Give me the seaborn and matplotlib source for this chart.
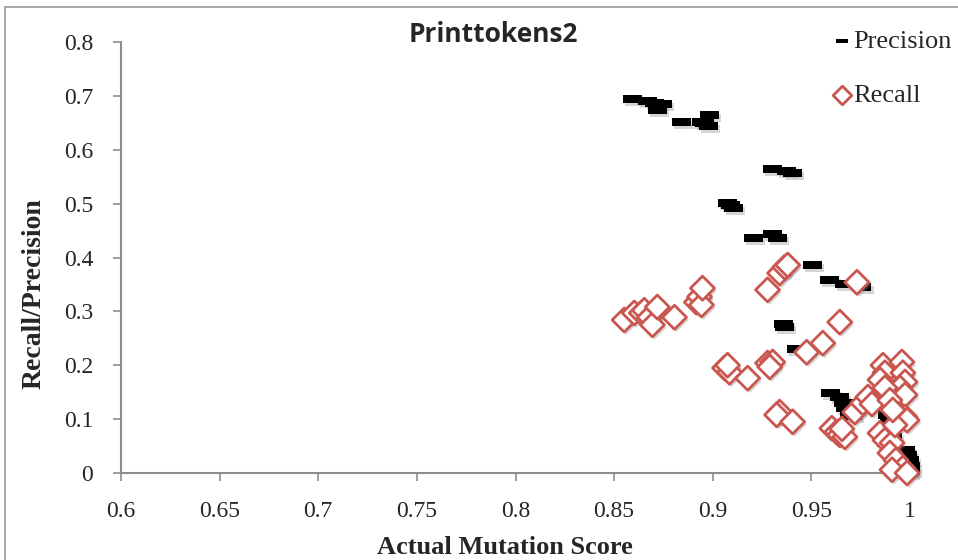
import numpy as np
import pandas as pd
import matplotlib
matplotlib.use("Agg")
import matplotlib.pyplot as plt
import seaborn as sns
from matplotlib.path import Path
from matplotlib.patches import Rectangle
import matplotlib.patheffects as pe

# ---- data ----
prec_x = [0.8592, 0.8668, 0.8704, 0.8745, 0.8719, 0.8841, 0.8943, 0.8983, 0.8978, 0.8958,
          0.9075, 0.9105, 0.9090, 0.9207, 0.9304, 0.9329, 0.9304, 0.9375, 0.9405,
          0.9507, 0.9593, 0.9670, 0.9756, 0.9360, 0.9365, 0.9426,
          0.9598, 0.9644, 0.9665, 0.9675, 0.9695, 0.9710, 0.9787, 0.9802,
          0.9883, 0.9893, 0.9888, 0.9898, 0.9863, 0.9883, 0.9903, 0.9913, 0.9929,
          0.9975, 0.9985, 0.9995, 1.0000, 1.0000, 0.9949, 0.9990]
prec_y = [0.694, 0.690, 0.686, 0.685, 0.673, 0.651, 0.651, 0.664, 0.644, 0.649,
          0.501, 0.492, 0.497, 0.436, 0.443, 0.436, 0.564, 0.560, 0.557,
          0.386, 0.358, 0.351, 0.345, 0.276, 0.271, 0.230,
          0.148, 0.141, 0.130, 0.121, 0.111, 0.106, 0.135, 0.126,
          0.126, 0.117, 0.108, 0.093, 0.074, 0.056, 0.048, 0.067, 0.037,
          0.043, 0.033, 0.024, 0.013, 0.004, 0.006, 0.000]

rec_x = [0.8551, 0.8602, 0.8638, 0.8653, 0.8679, 0.8694, 0.8719, 0.8806, 0.8917, 0.8933,
         0.8943, 0.8948,
         0.9060, 0.9085, 0.9075, 0.9177, 0.9278, 0.9304, 0.9289, 0.9339, 0.9324, 0.9405,
         0.9476, 0.9558, 0.9644, 0.9731, 0.9278, 0.9339, 0.9365, 0.9380,
         0.9604, 0.9629, 0.9644, 0.9670, 0.9655, 0.9720, 0.9761, 0.9787, 0.9807,
         0.9863, 0.9959, 0.9873, 0.9964, 0.9848, 0.9975, 0.9949, 0.9873, 0.9975,
         0.9898, 0.9975, 0.9985, 0.9848, 0.9873, 0.9909, 0.9898, 0.9929, 0.9964,
         0.9909, 0.9985, 0.9924, 0.9913]
rec_y = [0.284, 0.297, 0.297, 0.302, 0.289, 0.275, 0.308, 0.289, 0.317, 0.327,
         0.312, 0.343,
         0.195, 0.187, 0.200, 0.176, 0.204, 0.206, 0.197, 0.113, 0.108, 0.095,
         0.224, 0.241, 0.280, 0.354, 0.340, 0.371, 0.382, 0.386,
         0.083, 0.076, 0.071, 0.067, 0.082, 0.113, 0.130, 0.141, 0.128,
         0.200, 0.206, 0.186, 0.186, 0.173, 0.169, 0.158, 0.158, 0.145,
         0.135, 0.104, 0.098, 0.074, 0.061, 0.056, 0.037, 0.024, 0.009,
         0.006, 0.000, 0.089, 0.117]

x_ticks = [0.6, 0.65, 0.7, 0.75, 0.8, 0.85, 0.9, 0.95, 1.0]
x_labels = ["0.6", "0.65", "0.7", "0.75", "0.8", "0.85", "0.9", "0.95", "1"]
y_ticks = [0, 0.1, 0.2, 0.3, 0.4, 0.5, 0.6, 0.7, 0.8]
y_labels = ["0", "0.1", "0.2", "0.3", "0.4", "0.5", "0.6", "0.7", "0.8"]

prec_df = pd.DataFrame({"score": prec_x, "value": prec_y})
rec_df = pd.DataFrame({"score": rec_x, "value": rec_y})

sns.set_theme(style="white")
plt.rcParams['font.family'] = ['Liberation Serif', 'DejaVu Serif']

fig = plt.figure(figsize=(9.58, 5.60), dpi=100)
ax = fig.add_axes([121/958, 1-473/560, (910-121)/958, (473-42)/560])

dash = Path([(-1, -0.42), (1, -0.42), (1, 0.42), (-1, 0.42), (-1, -0.42)],
            [Path.MOVETO, Path.LINETO, Path.LINETO, Path.LINETO, Path.CLOSEPOLY])

red = "#C9574F"
shadow = [pe.SimplePatchShadow(offset=(1.5, -2), shadow_rgbFace="#888888", alpha=0.35), pe.Normal()]

sns.scatterplot(data=prec_df, x="score", y="value", marker=dash, s=190, color="black",
                edgecolor="black", linewidth=0, ax=ax, zorder=3, label="Precision")
sns.scatterplot(data=rec_df, x="score", y="value", marker="D", s=150, facecolor="white",
                edgecolor=red, linewidth=2.0, ax=ax, zorder=4, label="Recall")
for coll in ax.collections:
    coll.set_path_effects(shadow)
    coll.set_clip_on(False)

ax.set_xlim(0.6, 1.0)
ax.set_ylim(0, 0.8)
ax.set_xticks(x_ticks)
ax.set_xticklabels(x_labels)
ax.set_yticks(y_ticks)
ax.set_yticklabels(y_labels)
ax.tick_params(axis='both', which='major', labelsize=17, length=6, width=1.2,
               color="#8c8c8c", direction='out')
ax.tick_params(axis='x', bottom=True, pad=14)
ax.tick_params(axis='y', left=True, pad=14)
for s in ['top', 'right']:
    ax.spines[s].set_visible(False)
for s in ['left', 'bottom']:
    ax.spines[s].set_color("#8c8c8c")
    ax.spines[s].set_linewidth(1.5)

ax.set_xlabel("Actual Mutation Score", fontsize=19, fontweight='bold')
ax.set_ylabel("Recall/Precision", fontsize=20, fontweight='bold')
ax.xaxis.set_label_coords((505-121)/789, (473-536)/431)
ax.yaxis.set_label_coords((47-121)/789, (473-294)/431)

fig.text(493/958, 1-34/560, "Printtokens2", ha='center', va='center', fontsize=19,
         fontweight='bold', family=['Open Sans', 'DejaVu Sans'])

leg = ax.legend(loc='upper left', bbox_to_anchor=(824/958, 1-19/560), bbox_transform=fig.transFigure,
                frameon=False, fontsize=19, handlelength=0.6, handletextpad=0.1,
                labelspacing=1.15, borderaxespad=0)
for h in leg.legend_handles:
    h.set_path_effects([])
leg.legend_handles[0].set_sizes([70])
leg.legend_handles[1].set_sizes([90])

fig.patches.append(Rectangle((5/958, -0.1), 1.2, 0.1 + 1 - 7/560, transform=fig.transFigure,
                             fill=False, edgecolor="#9a9a9a", linewidth=1.2, zorder=0))

fig.savefig("out.png", dpi=100)
